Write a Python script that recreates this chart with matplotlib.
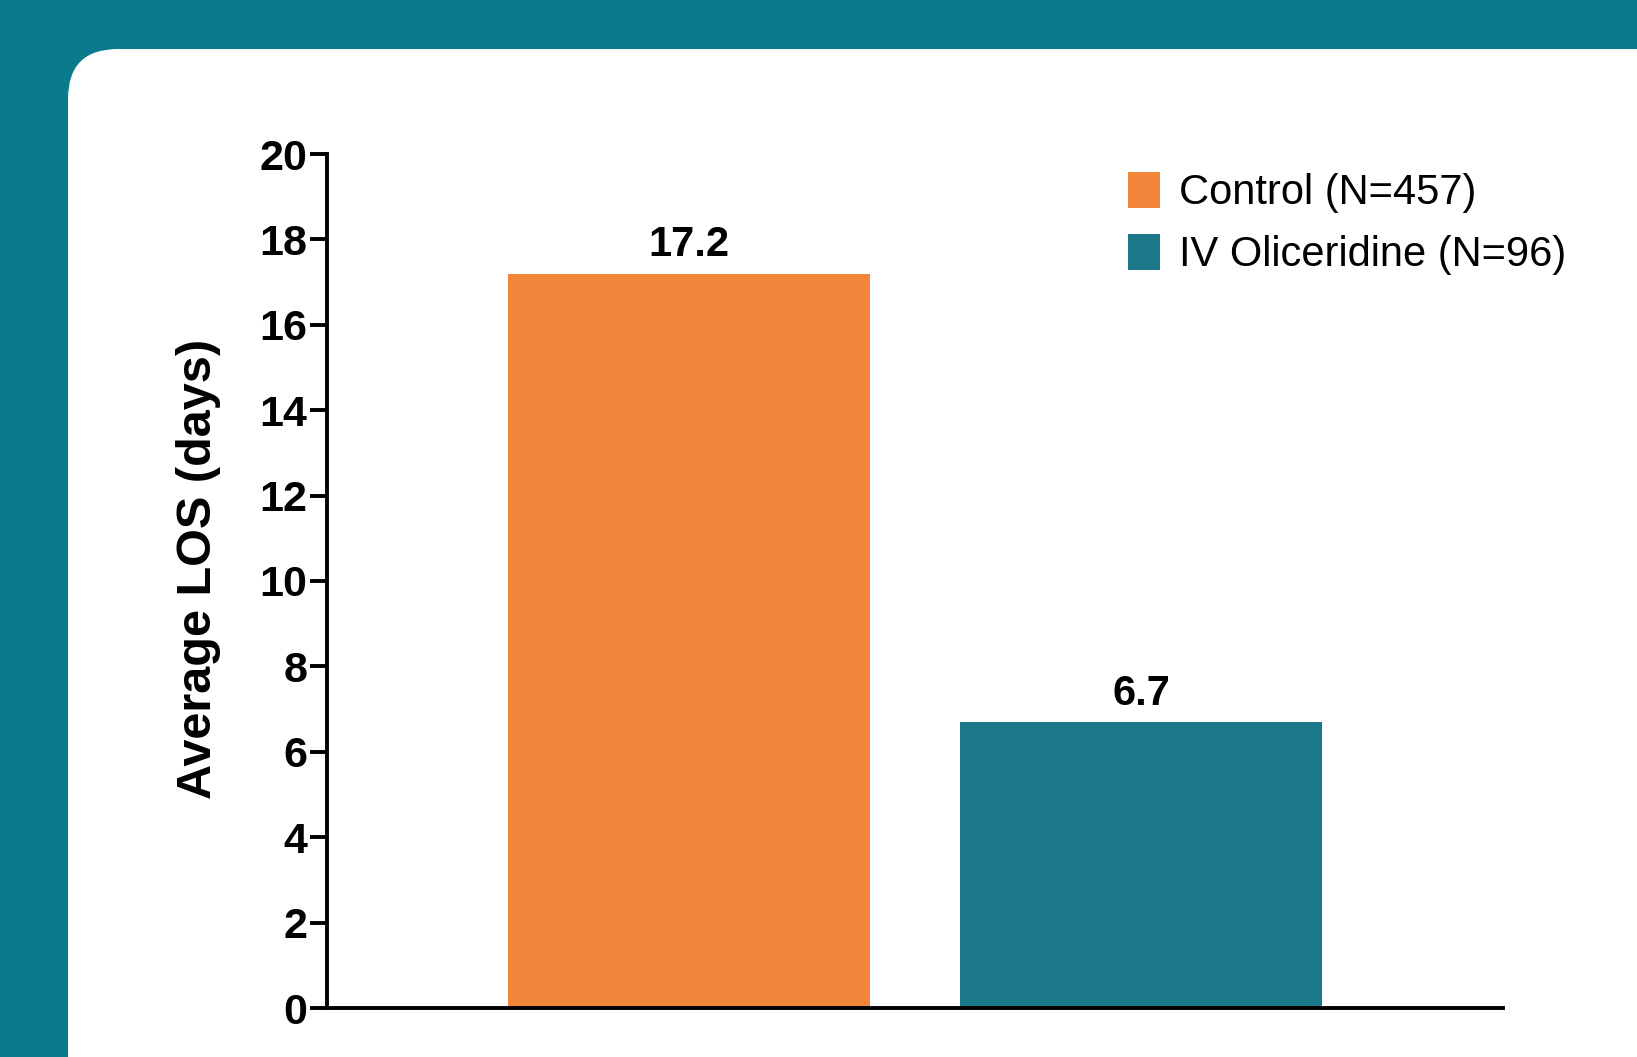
import matplotlib
matplotlib.use("Agg")
import matplotlib.pyplot as plt
from matplotlib.patches import FancyBboxPatch
from matplotlib.transforms import IdentityTransform

categories = ["Control (N=457)", "IV Oliceridine (N=96)"]
values = [17.2, 6.7]
value_labels = ["17.2", "6.7"]
yticks = [0, 2, 4, 6, 8, 10, 12, 14, 16, 18, 20]

colors = ["#F28539", "#1A7888"]
bg_color = "#0B7A8C"

plt.rcParams['font.family'] = ['Liberation Sans', 'DejaVu Sans']

W, H, DPI = 1637, 1057, 100
fig = plt.figure(figsize=(W / DPI, H / DPI), dpi=DPI, facecolor=bg_color)

# white rounded panel (pixel coordinates, origin bottom-left)
panel = FancyBboxPatch((68, -200), W + 200, (H - 49) + 200,
                       boxstyle="round,pad=0,rounding_size=50",
                       transform=IdentityTransform(), facecolor="white",
                       edgecolor="none", zorder=-10)
fig.patches.append(panel)

ax = fig.add_axes([327 / W, 49 / H, 1176 / W, 854 / H])
ax.set_facecolor("none")
ax.set_zorder(5)

x = [0, 1]
bars = ax.bar(x, values, width=0.8, color=colors, label=categories, zorder=2)

ax.set_xlim(-0.8, 1.8)
ax.set_ylim(0, 20)
ax.set_yticks(yticks)
ax.set_yticklabels([str(t) for t in yticks], fontsize=31, fontweight="bold")
ax.set_xticks([])

for s in ["top", "right"]:
    ax.spines[s].set_visible(False)
for s in ["left", "bottom"]:
    ax.spines[s].set_linewidth(2.8)
    ax.spines[s].set_color("black")
ax.tick_params(axis="y", length=12, width=2.8, pad=2, colors="black")

ax.set_ylabel("Average LOS (days)", fontsize=35, fontweight="bold")
ax.yaxis.set_label_coords(-0.090, 0.514)

for b, lab in zip(bars, value_labels):
    ax.annotate(lab, (b.get_x() + b.get_width() / 2, b.get_height()),
                xytext=(0, 6), textcoords="offset points",
                ha="center", va="bottom", fontsize=30, fontweight="bold")

leg = ax.legend(handles=list(bars), labels=categories, loc="upper left",
                bbox_to_anchor=(1128 / W, (H - 172) / H),
                bbox_transform=fig.transFigure, frameon=False,
                fontsize=30, handlelength=0.77, handleheight=0.95,
                handletextpad=0.45, labelspacing=0.5, borderpad=0,
                borderaxespad=0)

fig.savefig("out.png", dpi=DPI, facecolor=bg_color)
